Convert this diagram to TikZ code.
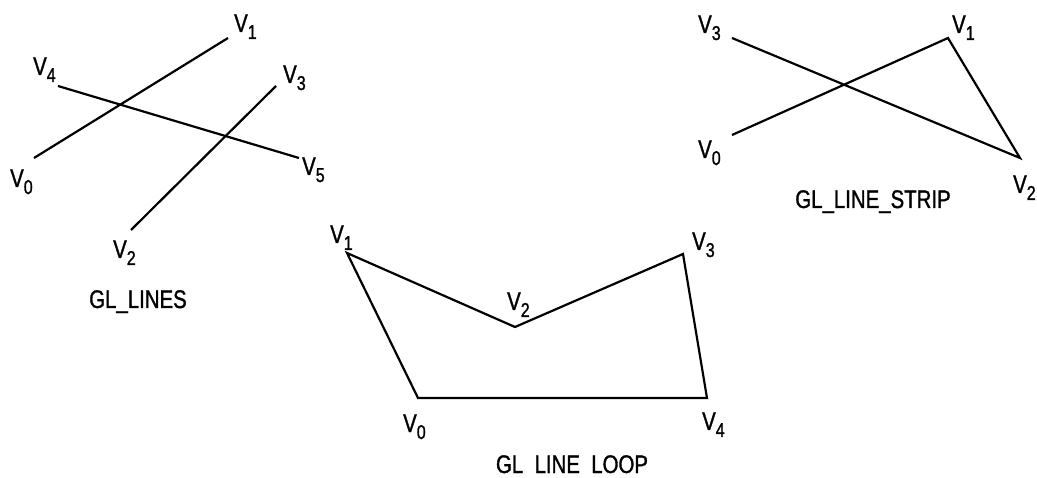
\documentclass[tikz,border=0pt]{standalone}
\usepackage{fontspec}
\setmainfont[FakeStretch=0.8,FakeBold=1.2]{Liberation Sans}
\newcommand\vlab[1]{V\raisebox{-7pt}{\fontsize{20}{20}\selectfont #1}}
\begin{document}
\begin{tikzpicture}[x=1pt,y=-1pt,
  edge/.style={line width=2.2pt, line join=miter},
  lab/.style={anchor=base west, inner sep=0pt, font=\fontsize{25.5}{26}\selectfont},
  ttl/.style={anchor=base, inner sep=0pt, font=\fontsize{25.5}{26}\selectfont}]
\useasboundingbox (0,0) rectangle (1037,478);
% ---------- GL_LINES ----------
\coordinate (a0) at (34,158);
\coordinate (a1) at (228,38);
\coordinate (a2) at (131,230);
\coordinate (a3) at (276,86);
\coordinate (a4) at (58,86);
\coordinate (a5) at (299,158);
\draw[edge] (a0) -- (a1);
\draw[edge] (a2) -- (a3);
\draw[edge] (a4) -- (a5);
\node[lab] (la0) at (10,187) {\vlab{0}};
\node[lab] (la1) at (234,32) {\vlab{1}};
\node[lab] (la2) at (113,258) {\vlab{2}};
\node[lab] (la3) at (283,83) {\vlab{3}};
\node[lab] (la4) at (33,75) {\vlab{4}};
\node[lab] (la5) at (302,175) {\vlab{5}};
\node[ttl] (ta) at (138,308) {GL\_LINES};
% ---------- GL_LINE_STRIP ----------
\coordinate (b0) at (732,135);
\coordinate (b1) at (948,38);
\coordinate (b2) at (1020,158);
\coordinate (b3) at (732,38);
\draw[edge] (b0) -- (b1) -- (b2) -- (b3);
\node[lab] (lb0) at (698,158) {\vlab{0}};
\node[lab] (lb1) at (952,33) {\vlab{1}};
\node[lab] (lb2) at (1013,193) {\vlab{2}};
\node[lab] (lb3) at (698,33) {\vlab{3}};
\node[ttl] (tb) at (873,208) {GL\_LINE\_STRIP};
% ---------- GL_LINE_LOOP ----------
\coordinate (c0) at (418,398);
\coordinate (c1) at (347,253);
\coordinate (c2) at (515,327);
\coordinate (c3) at (683,254);
\coordinate (c4) at (707,398);
\draw[edge] (c0) -- (c1) -- (c2) -- (c3) -- (c4) -- cycle;
\node[lab] (lc0) at (403,432) {\vlab{0}};
\node[lab] (lc1) at (330,243) {\vlab{1}};
\node[lab] (lc2) at (507,310) {\vlab{2}};
\node[lab] (lc3) at (692,250) {\vlab{3}};
\node[lab] (lc4) at (702,430) {\vlab{4}};
\node[ttl] (tc) at (572,473) {GL\hphantom{\_}LINE\hphantom{\_}LOOP};
\end{tikzpicture}
\end{document}
